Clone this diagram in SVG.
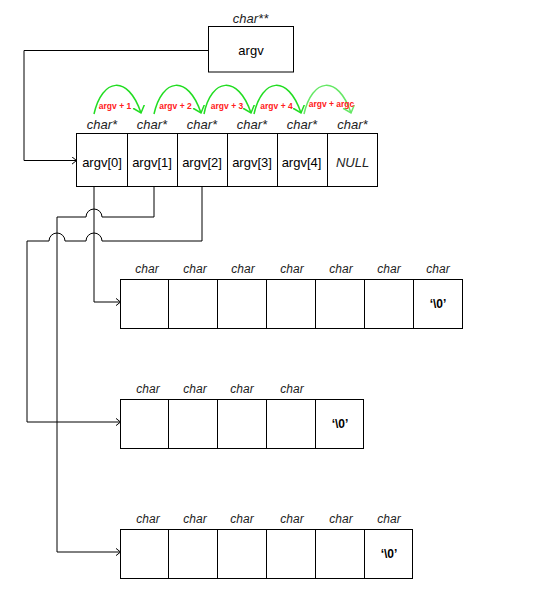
<svg xmlns="http://www.w3.org/2000/svg" width="553" height="615" viewBox="0 0 553 615">
<defs>
<style>
.box{fill:#fff;stroke:#000;stroke-width:1}
.ln{fill:none;stroke:#000;stroke-width:1}
.conn{fill:none;stroke:#000;stroke-width:1}
.grn{fill:none;stroke:#22dd22;stroke-width:1.5}
.t{font-family:"Liberation Sans",Arial,sans-serif;font-size:13px;fill:#000;text-anchor:middle}
.it{font-family:"Liberation Sans",Arial,sans-serif;font-style:italic;font-size:13px;fill:#222;text-anchor:middle}
.ch{font-family:"Liberation Sans",Arial,sans-serif;font-style:italic;font-size:12px;fill:#222;text-anchor:middle}
.nul{font-family:"Liberation Sans",Arial,sans-serif;font-weight:bold;font-size:12px;fill:#000;text-anchor:middle}
.red{font-family:"Liberation Sans",Arial,sans-serif;font-weight:bold;font-size:8.5px;fill:#ff2020;text-anchor:middle}
</style>
<marker id="arr" markerUnits="userSpaceOnUse" markerWidth="8" markerHeight="10" refX="5" refY="4" orient="auto" viewBox="0 0 8 10">
<path d="M0,0 L5,4 L0,8" fill="none" stroke="#000" stroke-width="1"/>
</marker>
<marker id="garr" markerUnits="userSpaceOnUse" markerWidth="12" markerHeight="14" refX="7" refY="6" orient="auto" viewBox="0 0 12 14">
<path d="M0,0 L7,6 L0,12" fill="none" stroke="#22dd22" stroke-width="1.5"/>
</marker>
<marker id="garr2" markerUnits="userSpaceOnUse" markerWidth="12" markerHeight="14" refX="7" refY="6" orient="auto" viewBox="0 0 12 14">
<path d="M0,0 L7,6 L0,12" fill="none" stroke="#66e866" stroke-width="1.5"/>
</marker>
</defs>

<g id="connectors">
<path class="conn" d="M208.5,50.5 L24,50.5 L24,160.5 L76.5,160.5" marker-end="url(#arr)"/>
<path class="conn" d="M94,187 L94,302 L120.5,302" marker-end="url(#arr)"/>
<path class="conn" d="M154,187 L154,217 L102,217 A8,8 0 0 0 86,217 L57,217 L57,552 L120.5,552" marker-end="url(#arr)"/>
<path class="conn" d="M202,187 L202,241 L102,241 A8,8 0 0 0 86,241 L65,241 A8,8 0 0 0 49,241 L27,241 L27,422 L120.5,422" marker-end="url(#arr)"/>
</g>

<g id="ptr-arrows">
<path class="grn" d="M94,114 C102,78 128,74 141,113" marker-end="url(#garr)"/>
<path class="grn" d="M154,114 C162,78 188,74 201,113" marker-end="url(#garr)"/>
<path class="grn" d="M204,114 C211,78 238,74 251,113" marker-end="url(#garr)"/>
<path class="grn" d="M254,114 C262,78 288,74 301,113" marker-end="url(#garr)"/>
<path class="grn" style="stroke:#66e866" d="M304,114 C312,78 338,74 351,113" marker-end="url(#garr2)"/>
<text class="red" x="115" y="108.5">argv + 1</text>
<text class="red" x="175.5" y="108.5">argv + 2</text>
<text class="red" x="227" y="108.5">argv + 3</text>
<text class="red" x="276.5" y="109">argv + 4</text>
<text class="red" x="331.5" y="106.5">argv + argc</text>
</g>

<g id="argv">
<text class="it" x="250.5" y="22.5">char**</text>
<rect class="box" x="208.5" y="26.5" width="85" height="45.5"/>
<text class="t" x="251" y="55">argv</text>
</g>

<g id="argv-array">
<text class="it" x="102" y="128.5">char*</text>
<text class="it" x="152" y="128.5">char*</text>
<text class="it" x="202" y="128.5">char*</text>
<text class="it" x="252" y="128.5">char*</text>
<text class="it" x="302" y="128.5">char*</text>
<text class="it" x="352.5" y="128.5">char*</text>
<rect class="box" x="76.5" y="133.5" width="301" height="53"/>
<path class="ln" d="M127.5,133.5 V186.5 M177.5,133.5 V186.5 M227.5,133.5 V186.5 M277.5,133.5 V186.5 M327.5,133.5 V186.5"/>
<text class="t" x="102" y="166.5">argv[0]</text>
<text class="t" x="152" y="166.5">argv[1]</text>
<text class="t" x="202" y="166.5">argv[2]</text>
<text class="t" x="252" y="166.5">argv[3]</text>
<text class="t" x="301.5" y="166.5">argv[4]</text>
<text class="it" x="352.5" y="166.5">NULL</text>
</g>

<g id="str0">
<text class="ch" x="147" y="273">char</text>
<text class="ch" x="195" y="273">char</text>
<text class="ch" x="243" y="273">char</text>
<text class="ch" x="292" y="273">char</text>
<text class="ch" x="341" y="273">char</text>
<text class="ch" x="389" y="273">char</text>
<text class="ch" x="438" y="273">char</text>
<rect class="box" x="120.5" y="279.5" width="342" height="49"/>
<path class="ln" d="M168.5,279.5 V328.5 M217.5,279.5 V328.5 M266.5,279.5 V328.5 M315.5,279.5 V328.5 M364.5,279.5 V328.5 M413.5,279.5 V328.5"/>
<text class="nul" x="438" y="308">‘\0’</text>
</g>

<g id="str1">
<text class="ch" x="148" y="393">char</text>
<text class="ch" x="195" y="393">char</text>
<text class="ch" x="242" y="393">char</text>
<text class="ch" x="292" y="393">char</text>
<rect class="box" x="120.5" y="399.5" width="243" height="49"/>
<path class="ln" d="M168.5,399.5 V448.5 M217.5,399.5 V448.5 M266.5,399.5 V448.5 M315.5,399.5 V448.5"/>
<text class="nul" x="340" y="428">‘\0’</text>
</g>

<g id="str2">
<text class="ch" x="148" y="523">char</text>
<text class="ch" x="195" y="523">char</text>
<text class="ch" x="242" y="523">char</text>
<text class="ch" x="292" y="523">char</text>
<text class="ch" x="341" y="523">char</text>
<text class="ch" x="389" y="523">char</text>
<rect class="box" x="120.5" y="529.5" width="292" height="49"/>
<path class="ln" d="M168.5,529.5 V578.5 M217.5,529.5 V578.5 M266.5,529.5 V578.5 M315.5,529.5 V578.5 M364.5,529.5 V578.5"/>
<text class="nul" x="389" y="558">‘\0’</text>
</g>
</svg>
